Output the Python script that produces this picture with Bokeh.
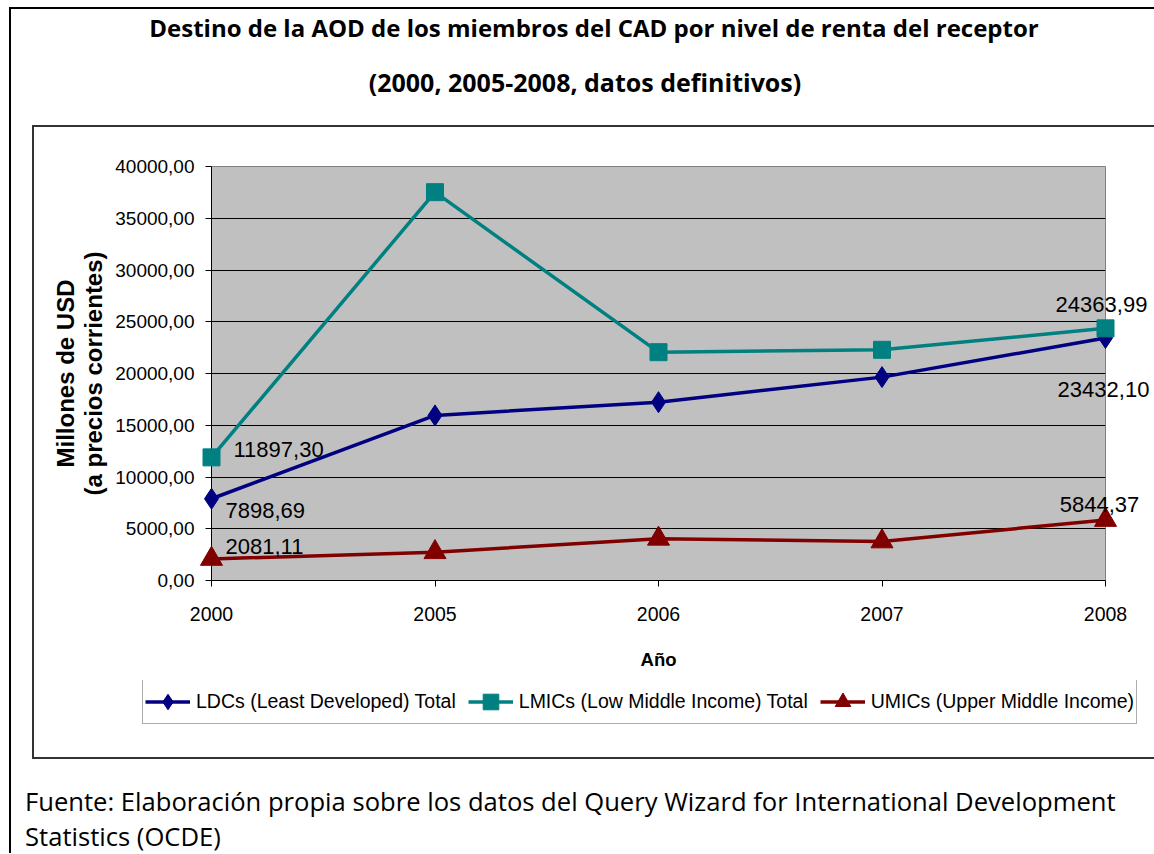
from bokeh.plotting import figure
from bokeh.layouts import column
from bokeh.models import (Range1d, FixedTicker, CustomJSTickFormatter, Legend,
                          LegendItem, Div, GlobalInlineStyleSheet)
from bokeh.core.properties import value
from bokeh.embed import file_html
from bokeh.resources import INLINE

# ---------------- data ----------------
years = ["2000", "2005", "2006", "2007", "2008"]
ldc = [7898.69, 15950.0, 17230.0, 19650.0, 23432.10]
lmic = [11897.30, 37520.0, 22060.0, 22290.0, 24363.99]
umic = [2081.11, 2730.0, 4030.0, 3770.0, 5844.37]
series_names = ["LDCs (Least Developed) Total",
                "LMICs (Low Middle Income) Total",
                "UMICs (Upper Middle Income)"]
y_ticks = [0, 5000, 10000, 15000, 20000, 25000, 30000, 35000, 40000]
title_lines = ["Destino de la AOD de los miembros del CAD por nivel de renta del receptor",
               "(2000, 2005-2008, datos definitivos)"]
footer_lines = ["Fuente: Elaboración propia sobre los datos del Query Wizard for International Development",
                "Statistics (OCDE)"]
y_label = "Millones de USD\n(a precios corrientes)"
x_label = "Año"

idx = list(range(len(years)))

SANS = "Liberation Sans"
colors = ["#000080", "#008080", "#800000"]
markers = ["diamond", "square", "triangle"]
sizes = [21, 17, 22]
all_series = [ldc, lmic, umic]

# ---------------- chart ----------------
CW = 1137
p = figure(width=CW, height=553, output_backend="svg", toolbar_location=None,
           x_range=Range1d(0, len(years) - 1), y_range=Range1d(0, y_ticks[-1]),
           min_border_left=177, min_border_top=39,
           min_border_right=CW + 34 - 1105, min_border_bottom=100)
p.frame_align = False
p.title.visible = False
p.background_fill_color = "#C0C0C0"
p.border_fill_color = "white"
p.outline_line_color = "#808080"
p.outline_line_width = 1

p.yaxis.ticker = FixedTicker(ticks=y_ticks)
p.yaxis.formatter = CustomJSTickFormatter(code="return tick.toFixed(2).replace('.', ',');")
p.xaxis.ticker = FixedTicker(ticks=idx)
p.xaxis.major_label_overrides = {i: y for i, y in zip(idx, years)}
for ax in (p.xaxis[0], p.yaxis[0]):
    ax.axis_line_color = "black"
    ax.axis_line_width = 1
    ax.major_tick_line_color = "black"
    ax.major_tick_out = 6
    ax.major_tick_in = 0
    ax.minor_tick_line_color = None
    ax.major_label_text_font = SANS
    ax.major_label_text_color = "black"
p.yaxis.major_label_text_font_size = "19px"
p.yaxis.major_label_standoff = 11
p.xaxis.major_label_text_font_size = "19.5px"
p.xaxis.major_label_standoff = 20

p.yaxis.axis_label = y_label
p.yaxis.axis_label_text_font = SANS
p.yaxis.axis_label_text_font_style = "bold"
p.yaxis.axis_label_text_font_size = "24px"
p.yaxis.axis_label_text_line_height = 1.05
p.yaxis.axis_label_text_color = "black"
p.yaxis.axis_label_standoff = 5

p.xaxis.axis_label = x_label
p.xaxis.axis_label_text_font = SANS
p.xaxis.axis_label_text_font_style = "bold"
p.xaxis.axis_label_text_font_size = "18.5px"
p.xaxis.axis_label_text_color = "black"
p.xaxis.axis_label_standoff = 25

p.xgrid.visible = False
p.ygrid.grid_line_color = "black"
p.ygrid.grid_line_width = 1

for vals, c, m, s in zip(all_series, colors, markers, sizes):
    p.line(idx, vals, line_color=c, line_width=3.5, level="annotation")
    p.scatter(idx, vals, marker=m, size=s, fill_color=c, line_color=c, level="annotation")


def fmt(v):
    return f"{v:.2f}".replace(".", ",")


def data_label(vals, i, xo, yo, align):
    p.text(x=[idx[i]], y=[vals[i]], text=[fmt(vals[i])], x_offset=xo, y_offset=yo,
           text_align=align, text_baseline="middle", text_font=value(SANS),
           text_font_size="22px", text_color="black", level="annotation")


data_label(lmic, 0, 22, -8, "left")
data_label(ldc, 0, 14, 12, "left")
data_label(umic, 0, 14, -12, "left")
data_label(lmic, -1, -4, -24, "center")
data_label(ldc, -1, -2, 52, "center")
data_label(umic, -1, -6, -16, "center")

# ---------------- legend strip (same series, legend only) ----------------
lf = figure(width=CW, height=77, output_backend="svg", toolbar_location=None,
            x_range=Range1d(0, len(years) - 1), y_range=Range1d(0, y_ticks[-1]),
            min_border=0, x_axis_location=None, y_axis_location=None)
lf.frame_align = False
lf.title.visible = False
lf.grid.visible = False
lf.outline_line_color = None
lf.background_fill_color = "white"
lf.border_fill_color = "white"
items = []
for vals, c, m, s, name in zip(all_series, colors, markers, sizes, series_names):
    lr = lf.line(idx, vals, line_color=c, line_width=3.5, visible=False)
    sr = lf.scatter(idx, vals, marker=m, size=s, fill_color=c, line_color=c, visible=False)
    items.append(LegendItem(label=name, renderers=[lr, sr]))

legend = Legend(items=items, orientation="horizontal", location=(108, 33),
                glyph_width=45, glyph_height=39, padding=2, spacing=12,
                label_standoff=6, margin=0,
                border_line_color="#5a5a5a", border_line_width=1.5,
                background_fill_color="white", background_fill_alpha=1,
                label_text_font=SANS, label_text_font_size="19.5px",
                label_text_color="black")
lf.add_layout(legend)

chart_box = column(p, lf, margin=(0, 0, 0, 21), spacing=0,
                   styles={"border-left": "2px solid #333333",
                           "border-top": "2px solid #333333",
                           "border-bottom": "2px solid #333333"})

# ---------------- surrounding document text ----------------
t_base = ("font-family:'Open Sans';font-weight:bold;width:1141px;"
          "box-sizing:border-box;line-height:37px;text-align:center;"
          "white-space:nowrap;color:black;margin:0;")
title_html = (f'<div style="{t_base}font-size:24px;padding-left:25px;">{title_lines[0]}</div>'
              f'<div style="{t_base}font-size:25px;padding-left:7px;margin-top:18px;">{title_lines[1]}</div>')
title_div = Div(text=title_html, width=1160, height=116, margin=0)

f_style = ("font-family:'Open Sans';font-size:25.6px;text-align:left;"
           "white-space:nowrap;color:black;margin:0;")
footer_html = (f'<div style="{f_style}line-height:38px;">{footer_lines[0]}</div>'
               f'<div style="{f_style}line-height:26px;margin-top:3px;">{footer_lines[1]}</div>')
footer_div = Div(text=footer_html, width=1146, height=70, margin=(24, 0, 0, 14))

page = column(title_div, chart_box, footer_div, margin=(7, 0, 0, 9), spacing=0,
              styles={"border-left": "2px solid black", "border-top": "2px solid black"},
              stylesheets=[GlobalInlineStyleSheet(css="html, body { overflow: hidden; }")])

open("out.html", "w").write(file_html(page, INLINE))
